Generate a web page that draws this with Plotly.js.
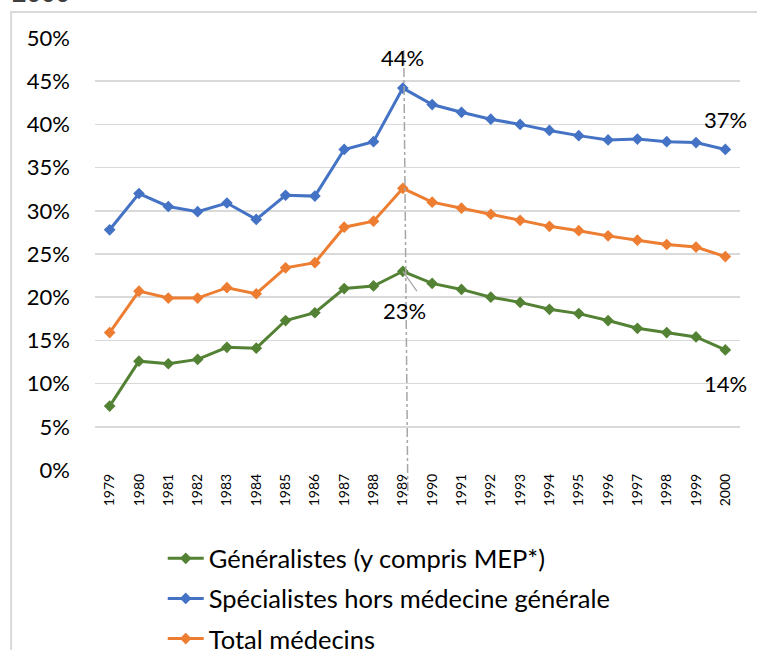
<!DOCTYPE html>
<html>
<head>
<meta charset="utf-8">
<script src="https://cdn.plot.ly/plotly-3.0.1.min.js"></script>
<style>html,body{margin:0;padding:0;background:#fff;}#chart{width:757px;height:650px;}</style>
</head>
<body>
<div id="chart"></div>
<script>
var years = ["1979","1980","1981","1982","1983","1984","1985","1986","1987","1988","1989","1990","1991","1992","1993","1994","1995","1996","1997","1998","1999","2000"];
var generalistes = [7.4,12.6,12.3,12.8,14.2,14.1,17.3,18.2,21.0,21.3,23.0,21.6,20.9,20.0,19.4,18.6,18.1,17.3,16.4,15.9,15.4,13.9];
var specialistes = [27.8,32.0,30.5,29.9,30.9,29.0,31.8,31.7,37.1,38.0,44.2,42.3,41.4,40.6,40.0,39.3,38.7,38.2,38.3,38.0,37.9,37.1];
var total = [15.9,20.7,19.9,19.9,21.1,20.4,23.4,24.0,28.1,28.8,32.6,31.0,30.3,29.6,28.9,28.2,27.7,27.1,26.6,26.1,25.8,24.7];
var yTicks = [0,5,10,15,20,25,30,35,40,45,50];
var yTickText = ["0%","5%","10%","15%","20%","25%","30%","35%","40%","45%","50%"];
var names = ["Généralistes (y compris MEP*)","Spécialistes hors médecine générale","Total médecins"];
var colors = ["#548235","#4472C4","#ED7D31"];

var FONT = "Lato, 'Open Sans', sans-serif";
var series = [generalistes, specialistes, total];
var traces = series.map(function(s,i){
  return {
    x: years, y: s, name: names[i], type: "scatter", mode: "lines+markers",
    legendgroup: "g"+i,
    line: {color: colors[i], width: 3},
    marker: {symbol: "diamond", size: 9, color: colors[i]}
  };
});

var layout = {
  width: 757, height: 650,
  margin: {l: 95, r: 17, t: 38, b: 180, autoexpand: false},
  paper_bgcolor: "#fff", plot_bgcolor: "#fff",
  font: {family: FONT, color: "#000"},
  showlegend: true,
  legend: {
    x: 0.105, y: -0.151, xanchor: "left", yanchor: "top",
    font: {size: 25.5, color: "#000", family: FONT},
    tracegroupgap: 4, itemwidth: 36, bgcolor: "rgba(0,0,0,0)"
  },
  xaxis: {
    type: "category", range: [-0.5, 21.5], automargin: false,
    tickangle: -90, tickfont: {size: 14, color: "#000", family: FONT},
    showgrid: false, zeroline: false, showline: false, ticks: "", fixedrange: true
  },
  yaxis: {
    range: [0, 50], tickvals: yTicks, ticktext: yTickText, automargin: false,
    tickfont: {size: 22, color: "#000", family: FONT},
    showgrid: true, gridcolor: "#D9D9D9", gridwidth: 1.5,
    zeroline: false, showline: false, ticks: "", ticklabelstandoff: 24, fixedrange: true
  },
  shapes: [
    {type: "rect", xref: "paper", yref: "paper", x0: -0.130, x1: 1.2, y0: -0.7, y1: 1.060,
     line: {color: "#D9D9D9", width: 2}, fillcolor: "rgba(0,0,0,0)", layer: "below"},
    {type: "line", xref: "x", yref: "paper", x0: 10.03, x1: 10.17, y0: 0.972, y1: -0.058,
     line: {color: "#A6A6A6", width: 1.5, dash: "dashdot"}},
    {type: "line", xref: "x", yref: "y", x0: 10, y0: 23, x1: 10.48, y1: 20.7,
     line: {color: "#A6A6A6", width: 1.2}}
  ],
  annotations: [
    {text: "44%", xref: "x", yref: "y", x: 10, y: 44.2, yshift: 31, showarrow: false,
     font: {size: 22, color: "#000", family: FONT}},
    {text: "37%", xref: "x", yref: "y", x: 21, y: 37.1, yshift: 30, showarrow: false,
     font: {size: 22, color: "#000", family: FONT}},
    {text: "23%", xref: "x", yref: "y", x: 10, y: 23, yshift: -39, xshift: 2, showarrow: false,
     font: {size: 22, color: "#000", family: FONT}},
    {text: "14%", xref: "x", yref: "y", x: 21, y: 13.9, yshift: -34, showarrow: false,
     font: {size: 22, color: "#000", family: FONT}},
    {text: "<b>2000</b>", xref: "paper", yref: "paper", x: -0.132, y: 1.067, xanchor: "left", yanchor: "bottom",
     showarrow: false, font: {size: 25, color: "#404040", family: FONT}}
  ]
};

Plotly.newPlot("chart", traces, layout, {displayModeBar: false, staticPlot: true});
</script>
</body>
</html>
